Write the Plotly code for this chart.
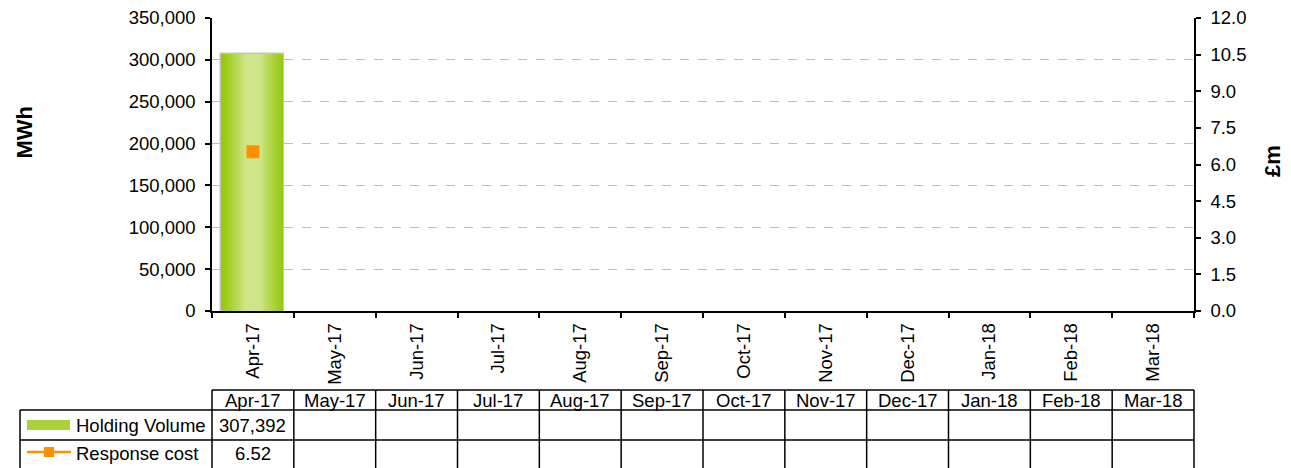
import plotly.graph_objects as go

months = ['Apr-17', 'May-17', 'Jun-17', 'Jul-17', 'Aug-17', 'Sep-17',
          'Oct-17', 'Nov-17', 'Dec-17', 'Jan-18', 'Feb-18', 'Mar-18']
holding_volume = [307392, None, None, None, None, None, None, None, None, None, None, None]
response_cost = [6.52, None, None, None, None, None, None, None, None, None, None, None]
mwh_ticks = [0, 50000, 100000, 150000, 200000, 250000, 300000, 350000]
gbp_ticks = [0.0, 1.5, 3.0, 4.5, 6.0, 7.5, 9.0, 10.5, 12.0]

FONT = "Liberation Sans, Arial, sans-serif"
FS = 18.5
OFF = 8  # page body margin
W, H = 1291 - OFF, 468 - OFF
L, T = 212 - OFF, 18 - OFF
PW, PH = 982, 293
R = W - L - PW
B = H - T - PH


def py(Y):
    return (T + PH - (Y - OFF)) / PH


def px(X):
    return ((X - OFF) - L) / PW


def hexmix(c1, c2, t):
    a = [int(c1[i:i + 2], 16) for i in (1, 3, 5)]
    b = [int(c2[i:i + 2], 16) for i in (1, 3, 5)]
    return "#" + "".join(f"{round(a[j] + (b[j] - a[j]) * t):02x}" for j in range(3))


fig = go.Figure()

# Bar with horizontal gradient (layered overlaid bars)
N = 14
bw = 0.77
edge, centre = "#98c910", "#cfe58a"
for k in range(N):
    t = k / (N - 1)
    w = bw * (1 - 0.75 * t)
    fig.add_trace(go.Bar(
        x=months, y=holding_volume, width=w,
        marker=dict(color=hexmix(edge, centre, t ** 1.2),
                    line=dict(color="#c4c4bc" if k == 0 else "rgba(0,0,0,0)",
                              width=1.5 if k == 0 else 0)),
        name="Holding Volume", showlegend=False,
    ))

fig.add_trace(go.Scatter(
    x=months, y=response_cost, yaxis="y2", mode="lines+markers",
    marker=dict(symbol="square", size=13, color="#ff9000"),
    line=dict(color="#ff9000", width=2.5),
    name="Response cost", showlegend=False,
))

shapes = []
line = dict(color="black", width=1.5)
shapes.append(dict(type="line", xref="paper", yref="paper", x0=0, x1=1, y0=py(390), y1=py(390), line=line))
for Y in (410, 440, 470):
    shapes.append(dict(type="line", xref="paper", yref="paper", x0=px(20), x1=1, y0=py(Y), y1=py(Y), line=line))
shapes.append(dict(type="line", xref="paper", yref="paper", x0=px(20), x1=px(20), y0=py(410), y1=py(470), line=line))
for i in range(len(months) + 1):
    xp = i / len(months)
    shapes.append(dict(type="line", xref="paper", yref="paper", x0=xp, x1=xp, y0=py(390), y1=py(470), line=line))
# legend keys
shapes.append(dict(type="rect", xref="paper", yref="paper", x0=px(27), x1=px(70), y0=py(430), y1=py(420),
                   fillcolor="#a9d336", line=dict(width=0)))
shapes.append(dict(type="line", xref="paper", yref="paper", x0=px(27), x1=px(71), y0=py(452), y1=py(452),
                   line=dict(color="#ff9000", width=2.5)))
shapes.append(dict(type="rect", xref="paper", yref="paper", x0=px(44), x1=px(54), y0=py(457), y1=py(447),
                   fillcolor="#ff9000", line=dict(width=0)))

ann = []
tf = dict(family=FONT, size=FS, color="black")
for i, m in enumerate(months):
    xc = (i + 0.5) / len(months)
    ann.append(dict(x=xc, y=py(400), xref="paper", yref="paper", text=m, showarrow=False, font=tf,
                    xanchor="center", yanchor="middle"))
    if holding_volume[i] is not None:
        ann.append(dict(x=xc, y=py(425), xref="paper", yref="paper", text=f"{holding_volume[i]:,}",
                        showarrow=False, font=tf, xanchor="center", yanchor="middle"))
    if response_cost[i] is not None:
        ann.append(dict(x=xc, y=py(453), xref="paper", yref="paper", text=f"{response_cost[i]:.2f}",
                        showarrow=False, font=tf, xanchor="center", yanchor="middle"))
ann.append(dict(x=px(74), y=py(425), xref="paper", yref="paper", text="Holding Volume", showarrow=False,
                font=tf, xanchor="left", yanchor="middle"))
ann.append(dict(x=px(74), y=py(453), xref="paper", yref="paper", text="Response cost", showarrow=False,
                font=tf, xanchor="left", yanchor="middle"))
ann.append(dict(x=px(9), y=py(132), xref="paper", yref="paper", text="<b>MWh</b>", showarrow=False,
                textangle=-90, font=dict(family=FONT, size=22, color="black"), xanchor="left", yanchor="middle"))
ann.append(dict(x=px(1272), y=py(161), xref="paper", yref="paper", text="<b>£m</b>", showarrow=False,
                textangle=-90, font=dict(family=FONT, size=22, color="black"), xanchor="center", yanchor="middle"))

fig.update_layout(
    width=W, height=H,
    margin=dict(l=L, r=R, t=T, b=B, autoexpand=False),
    paper_bgcolor="white", plot_bgcolor="white",
    barmode="overlay", bargap=0,
    font=tf,
    showlegend=False,
    xaxis=dict(type="category", categoryorder="array", categoryarray=months,
               range=[-0.5, len(months) - 0.5],
               tickangle=-90, ticks="outside", tickson="boundaries", ticklen=5, tickwidth=1.5,
               tickcolor="black", showline=True, linecolor="black", linewidth=1.5,
               showgrid=False, tickfont=tf, fixedrange=True, ticklabelstandoff=3),
    yaxis=dict(range=[0, 350000], tickmode="array", tickvals=mwh_ticks,
               ticktext=[f"{v:,}" for v in mwh_ticks],
               ticks="outside", ticklen=5, tickwidth=1.5, tickcolor="black",
               showline=True, linecolor="black", linewidth=1.5,
               showgrid=True, gridcolor="#bdbdbd", griddash="dash", gridwidth=1,
               zeroline=False, tickfont=tf, ticklabelstandoff=6, ticklabeloverflow="allow"),
    yaxis2=dict(range=[0, 12], overlaying="y", side="right", tickmode="array", tickvals=gbp_ticks,
                ticktext=[f"{v:.1f}" for v in gbp_ticks],
                ticks="outside", ticklen=5, tickwidth=1.5, tickcolor="black",
                showline=True, linecolor="black", linewidth=1.5,
                showgrid=False, zeroline=False, tickfont=tf, ticklabelstandoff=6,
                ticklabeloverflow="allow"),
    shapes=shapes,
    annotations=ann,
)

fig.write_html("out.html")
